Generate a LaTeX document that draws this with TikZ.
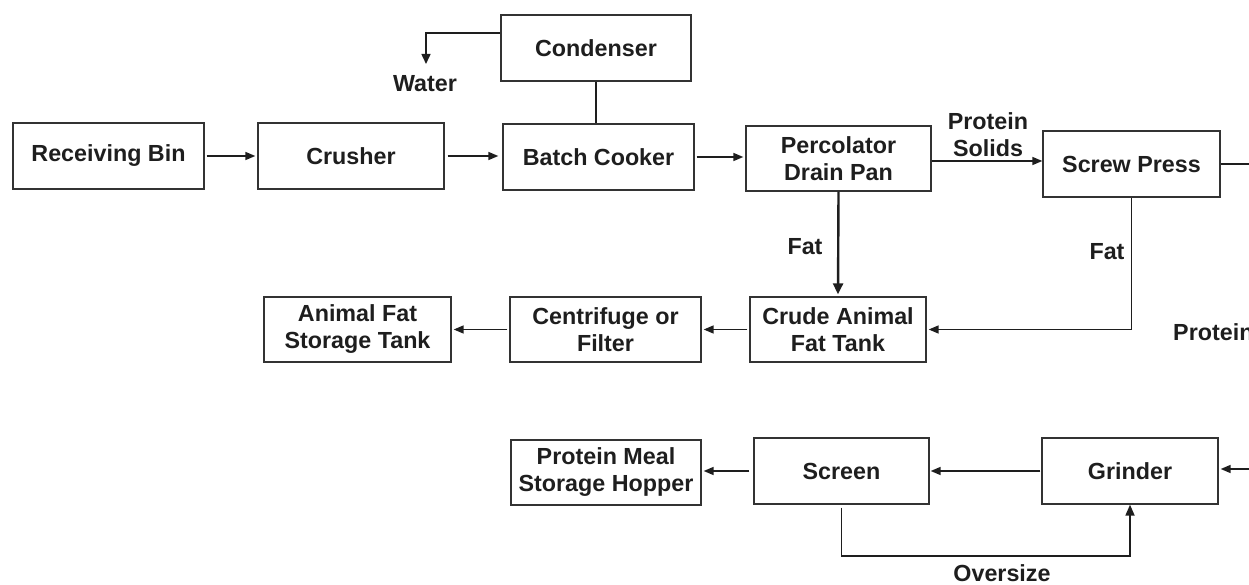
\documentclass[tikz,border=0pt]{standalone}
\usepackage{fontspec}
\setmainfont{Liberation Sans}
\usetikzlibrary{arrows.meta}
\definecolor{ink}{HTML}{1E1E1E}
\definecolor{edge}{HTML}{333333}
\tikzset{
  blk/.style={draw=edge, line width=1.3pt, minimum height=66pt, align=center, inner sep=0pt,
    font=\fontsize{23.3}{27}\selectfont\bfseries, text=ink},
  lbl/.style={font=\fontsize{23.3}{27}\selectfont\bfseries, text=ink, align=center, inner sep=0pt},
  flow/.style={draw=ink, line width=1.5pt, -{Triangle[length=10pt,width=8pt]}},
  thickflow/.style={draw=ink, line width=2.4pt, -{Triangle[length=11pt,width=10pt]}},
  plain/.style={draw=ink, line width=1.5pt},
}
\begin{document}
\begin{tikzpicture}[x=1pt,y=-1pt]
\useasboundingbox (0,0) rectangle (1249,585);
\clip (0,0) rectangle (1249,585);
% boxes
\node[blk, minimum width=191pt] (rb) at (108.5,156) {Receiving Bin};
\node[blk, minimum width=186pt] (cr) at (351,156) {Crusher};
\node[blk, minimum width=191pt] (bc) at (598.5,157) {Batch Cooker};
\node[blk, minimum width=190pt] (cond) at (596,48) {Condenser};
\node[blk, minimum width=185pt, minimum height=65pt] (perc) at (838.5,158.5) {Percolator\\Drain Pan};
\node[blk, minimum width=177pt] (sp) at (1131.5,164) {Screw Press};
\node[blk, minimum width=176pt, minimum height=65pt] (crude) at (838,329.5) {Crude Animal\\Fat Tank};
\node[blk, minimum width=191pt, minimum height=65pt] (cent) at (605.5,329.5) {Centrifuge or\\Filter};
\node[blk, minimum width=187pt, minimum height=65pt] (afst) at (357.5,329.5) {Animal Fat\\Storage Tank};
\node[blk, minimum width=176pt] (grind) at (1130,471) {Grinder};
\node[blk, minimum width=175pt] (screen) at (841.5,471) {Screen};
\node[blk, minimum width=190pt, minimum height=65pt] (hopper) at (606,472.5) {Protein Meal\\Storage Hopper};
% labels
\node[lbl] (water) at (425,84) {Water};
\node[lbl] (ps) at (988,135) {Protein\\Solids};
\node[lbl] (fat1) at (805,247) {Fat};
\node[lbl] (fat2) at (1107,252) {Fat};
\node[lbl, anchor=west] (prot) at (1173,332) {Protein};
\node[lbl] (over) at (1002,573) {Oversize};
% helper coordinates
\coordinate (c33) at (0,33);
\coordinate (wc) at (426,33);
\coordinate (wa) at (426,64);
\coordinate (y161) at (0,161);
\coordinate (spR) at (1260,164);
\coordinate (gR) at (1260,469);
\coordinate (oc) at (1000,556);
% connectors
\draw[flow, shorten <=2pt, shorten >=2pt] (rb) -- (cr);
\draw[flow, shorten <=3pt, shorten >=4pt] (cr.east) -- (cr.east -| bc.west);
\draw[flow, shorten <=2pt, shorten >=2pt] (bc.east) -- (perc.west |- bc.east);
\draw[plain] (cond.south) -- (cond.south |- bc.north);
\draw[draw=ink, line width=1.5pt, -{Triangle[length=10pt,width=9pt]}] (cond.west |- c33) -- (wc) -- (wa);
\draw[flow] (perc.east |- y161) -- (sp.west |- y161);
\draw[plain] (sp.east) -- (spR);
\draw[thickflow, shorten >=2pt] (perc.south) -- (crude.north);
\draw[flow, shorten >=2pt] (sp.south) |- (crude.east);
\draw[flow, shorten <=2pt, shorten >=2pt] (crude.west) -- (cent.east);
\draw[flow, shorten <=2pt, shorten >=2pt] (cent.west) -- (afst.east);
\draw[flow, shorten >=2pt] (gR) -- (gR -| grind.east);
\draw[flow, shorten <=1pt, shorten >=1pt] (grind.west) -- (screen.east);
\draw[flow, shorten <=4pt, shorten >=2pt] (screen.west) -- (screen.west -| hopper.east);
\draw[draw=ink, line width=1.8pt, -{Triangle[length=11pt,width=9pt]}, shorten <=3pt] (screen.south) |- (oc) -| (grind.south);
\end{tikzpicture}
\end{document}
